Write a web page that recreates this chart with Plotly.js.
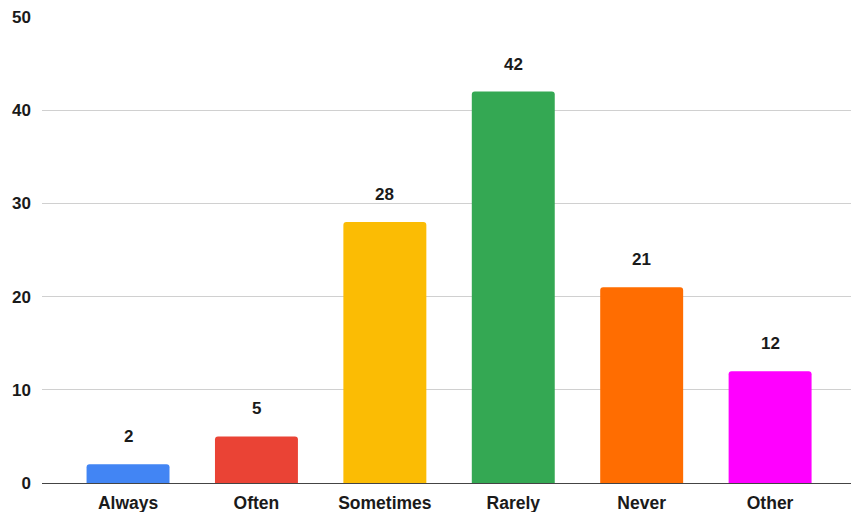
<!DOCTYPE html>
<html>
<head>
<meta charset="utf-8">
<script src="https://cdn.plot.ly/plotly-3.0.1.min.js"></script>
<style>
  html, body { margin: 0; padding: 0; background: #fff; }
  #chart { width: 851px; height: 512px; }
</style>
</head>
<body>
<div id="chart"></div>
<script>
// Response frequency counts
const categories = ["Always", "Often", "Sometimes", "Rarely", "Never", "Other"];
const counts = [2, 5, 28, 42, 21, 12];
const barColors = ["#4285F4", "#EA4335", "#FBBC04", "#34A853", "#FF6D01", "#FF00FF"];
const yTicks = [0, 10, 20, 30, 40, 50];

const fontFamily = "'Liberation Sans', Arial, Helvetica, sans-serif";
const valueFont = { family: fontFamily, size: 17, color: "#1a1a1a", weight: "bold" };
const tickFont = { family: fontFamily, size: 17, color: "#1a1a1a", weight: "bold" };
const catFont = { family: fontFamily, size: 17.5, color: "#1a1a1a", weight: "bold" };

const trace = {
  type: "bar",
  x: categories,
  y: counts,
  marker: { color: barColors, cornerradius: 3, line: { width: 0 } },
  hoverinfo: "x+y"
};

// Value labels sit a little above each bar
const annotations = categories.map((c, i) => ({
  x: c,
  y: counts[i],
  text: String(counts[i]),
  showarrow: false,
  yanchor: "bottom",
  yshift: 16,
  font: valueFont
}));

const layout = {
  width: 851,
  height: 512,
  margin: { l: 42, r: 0, t: 17, b: 29 },
  paper_bgcolor: "#fff",
  plot_bgcolor: "#fff",
  showlegend: false,
  bargap: 0.354,
  font: tickFont,
  xaxis: {
    type: "category",
    range: [-0.67, 5.63],
    showgrid: false,
    showline: false,
    zeroline: false,
    ticks: "",
    ticklabelstandoff: 7,
    tickfont: catFont
  },
  yaxis: {
    range: [0, 50],
    tickvals: yTicks,
    ticktext: yTicks.map(String),
    showgrid: true,
    gridcolor: "#d0d0d0",
    gridwidth: 1,
    zeroline: true,
    zerolinecolor: "#444",
    zerolinewidth: 1,
    showline: false,
    ticks: "",
    ticklabelstandoff: 10,
    tickfont: tickFont
  },
  annotations: annotations
};

Plotly.newPlot("chart", [trace], layout, { displayModeBar: false, staticPlot: true });
</script>
</body>
</html>
